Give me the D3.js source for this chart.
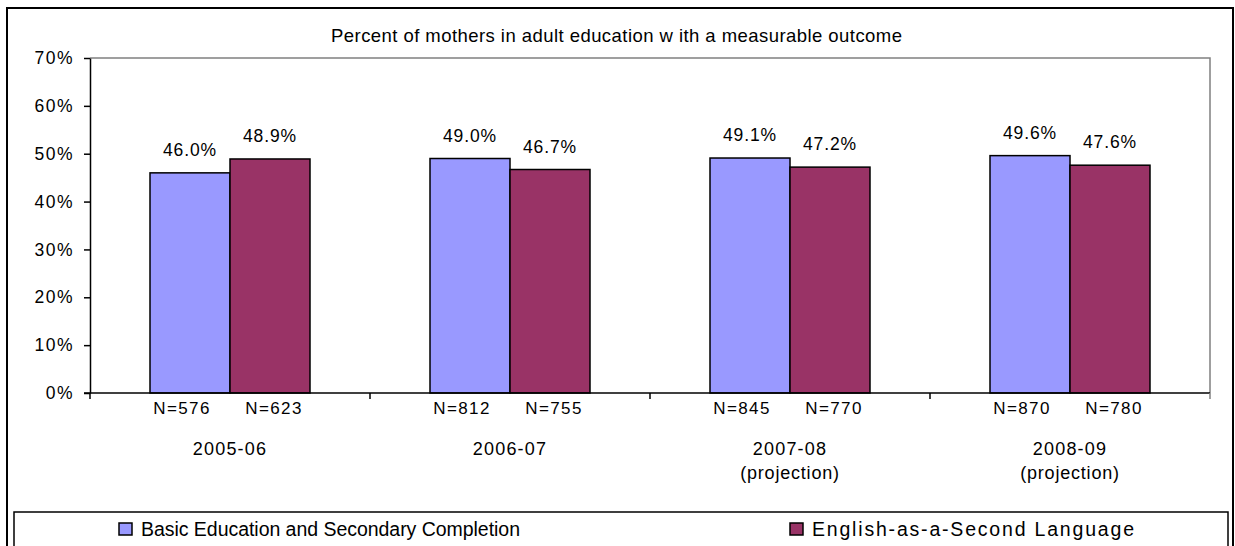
<!DOCTYPE html>
<html>
<head>
<meta charset="utf-8">
<script src="https://cdn.jsdelivr.net/npm/d3@7/dist/d3.min.js"></script>
<style>
  html, body { margin: 0; padding: 0; background: #fff; }
  svg { display: block; font-family: "Liberation Sans", Arial, sans-serif; }
</style>
</head>
<body>
<svg id="chart" width="1235" height="546"></svg>
<script>
// School years shown on the category axis
const categories = ["2005-06", "2006-07", "2007-08", "2008-09"];
const categoryNotes = ["", "", "(projection)", "(projection)"];

// Series
const seriesNames = ["Basic Education and Secondary Completion", "English-as-a-Second Language"];
const seriesColors = ["#9999FF", "#993366"];

// Percent with a measurable outcome
const basicPct = [46.0, 49.0, 49.1, 49.6];
const eslPct = [48.9, 46.7, 47.2, 47.6];

// Number of mothers in each group
const basicN = [576, 812, 845, 870];
const eslN = [623, 755, 770, 780];

// Value axis ticks (percent)
const yTicks = [0, 10, 20, 30, 40, 50, 60, 70];

const chartTitle = "Percent of mothers in adult education w ith a measurable outcome";

const W = 1235, H = 546;
const plot = { left: 90, right: 1210, top: 58, bottom: 393 };

const svg = d3.select("#chart");

svg.append("rect").attr("width", W).attr("height", H).attr("fill", "#fff");

// Outer chart frame (continues past the bottom edge)
svg.append("rect")
  .attr("x", 7).attr("y", 8)
  .attr("width", 1226).attr("height", 580)
  .attr("fill", "none").attr("stroke", "#000").attr("stroke-width", 2);

const x0 = d3.scaleBand().domain(categories).range([plot.left, plot.right]).paddingInner(0).paddingOuter(0);
const x1 = d3.scaleBand().domain(seriesNames).range([0, x0.bandwidth()]).paddingInner(0).paddingOuter(0.75);
const y = d3.scaleLinear().domain([0, 70]).range([plot.bottom, plot.top]);

// Plot area border (top and right, grey)
svg.append("path")
  .attr("d", `M${plot.left},${plot.top}H${plot.right}V${plot.bottom}`)
  .attr("fill", "none").attr("stroke", "#808080").attr("stroke-width", 1.5);

// Title
svg.append("text")
  .attr("x", 331).attr("y", 41.7)
  .attr("font-size", 18.5)
  .attr("textLength", 571)
  .attr("lengthAdjust", "spacing")
  .attr("fill", "#000")
  .text(chartTitle);

// Bars
const rows = categories.map((c, i) => ({
  cat: c,
  values: [
    { series: seriesNames[0], pct: basicPct[i], n: basicN[i], color: seriesColors[0] },
    { series: seriesNames[1], pct: eslPct[i], n: eslN[i], color: seriesColors[1] }
  ]
}));

const groups = svg.append("g").selectAll("g")
  .data(rows).join("g")
  .attr("transform", d => `translate(${x0(d.cat)},0)`);

groups.selectAll("rect")
  .data(d => d.values).join("rect")
  .attr("x", d => x1(d.series))
  .attr("y", d => y(d.pct))
  .attr("width", x1.bandwidth())
  .attr("height", d => y(0) - y(d.pct))
  .attr("fill", d => d.color)
  .attr("stroke", "#000").attr("stroke-width", 1.5);

// Value labels above bars
groups.selectAll("text.val")
  .data(d => d.values).join("text")
  .attr("class", "val")
  .attr("x", d => x1(d.series) + x1.bandwidth() / 2)
  .attr("y", d => y(d.pct) - 17)
  .attr("text-anchor", "middle")
  .attr("font-size", 17.5)
  .attr("letter-spacing", 0.9)
  .text(d => d.pct.toFixed(1) + "%");

// Group sizes under the axis
const nShift = [-8, 4];
groups.selectAll("text.n")
  .data(d => d.values).join("text")
  .attr("class", "n")
  .attr("x", (d, i) => x1(d.series) + x1.bandwidth() / 2 + nShift[i])
  .attr("y", 413.5)
  .attr("text-anchor", "middle")
  .attr("font-size", 17)
  .attr("letter-spacing", 1.4)
  .text(d => "N=" + d.n);

// Year labels
groups.append("text")
  .attr("x", x0.bandwidth() / 2)
  .attr("y", 454.5)
  .attr("text-anchor", "middle")
  .attr("font-size", 18)
  .attr("letter-spacing", 1.2)
  .text(d => d.cat);

groups.append("text")
  .attr("x", x0.bandwidth() / 2)
  .attr("y", 479)
  .attr("text-anchor", "middle")
  .attr("font-size", 18)
  .attr("letter-spacing", 0.8)
  .text((d, i) => categoryNotes[i]);

// Value axis
const yAxis = svg.append("g")
  .attr("transform", `translate(${plot.left},0)`)
  .call(d3.axisLeft(y).tickValues(yTicks).tickFormat(d => d + "%").tickSize(6).tickPadding(10).tickSizeOuter(0));
yAxis.select(".domain").attr("stroke", "#000").attr("stroke-width", 1.5);
yAxis.selectAll(".tick line").attr("stroke", "#000").attr("stroke-width", 1.5);
yAxis.selectAll(".tick text")
  .attr("font-size", 17.5)
  .attr("font-family", "Liberation Sans, Arial, sans-serif")
  .attr("fill", "#000")
  .attr("letter-spacing", 1.5);

// Category axis: ticks at group boundaries
const boundaries = categories.map(c => x0(c)).concat([plot.right]);
svg.append("line")
  .attr("x1", plot.left - 6).attr("x2", plot.right)
  .attr("y1", y(0)).attr("y2", y(0))
  .attr("stroke", "#000").attr("stroke-width", 1.5);
svg.append("g").selectAll("line")
  .data(boundaries).join("line")
  .attr("x1", d => d).attr("x2", d => d)
  .attr("y1", y(0)).attr("y2", y(0) + 6)
  .attr("stroke", (d, i) => i === boundaries.length - 1 ? "#808080" : "#000")
  .attr("stroke-width", 1.5);

// Legend
const legend = svg.append("g");
legend.append("rect")
  .attr("x", 14).attr("y", 512)
  .attr("width", 1214).attr("height", 60)
  .attr("fill", "#fff").attr("stroke", "#000").attr("stroke-width", 1.5);

const legendX = [119, 790];
const legendTextWidth = [379, 322];
const items = legend.selectAll("g.item")
  .data(seriesNames).join("g")
  .attr("class", "item")
  .attr("transform", (d, i) => `translate(${legendX[i]},0)`);
items.append("rect")
  .attr("x", 0).attr("y", 523)
  .attr("width", 13).attr("height", 12)
  .attr("fill", (d, i) => seriesColors[i])
  .attr("stroke", "#000").attr("stroke-width", 1.5);
items.append("text")
  .attr("x", 22).attr("y", 535.5)
  .attr("font-size", 19.5)
  .attr("textLength", (d, i) => legendTextWidth[i])
  .attr("lengthAdjust", "spacing")
  .text(d => d);
</script>
</body>
</html>
